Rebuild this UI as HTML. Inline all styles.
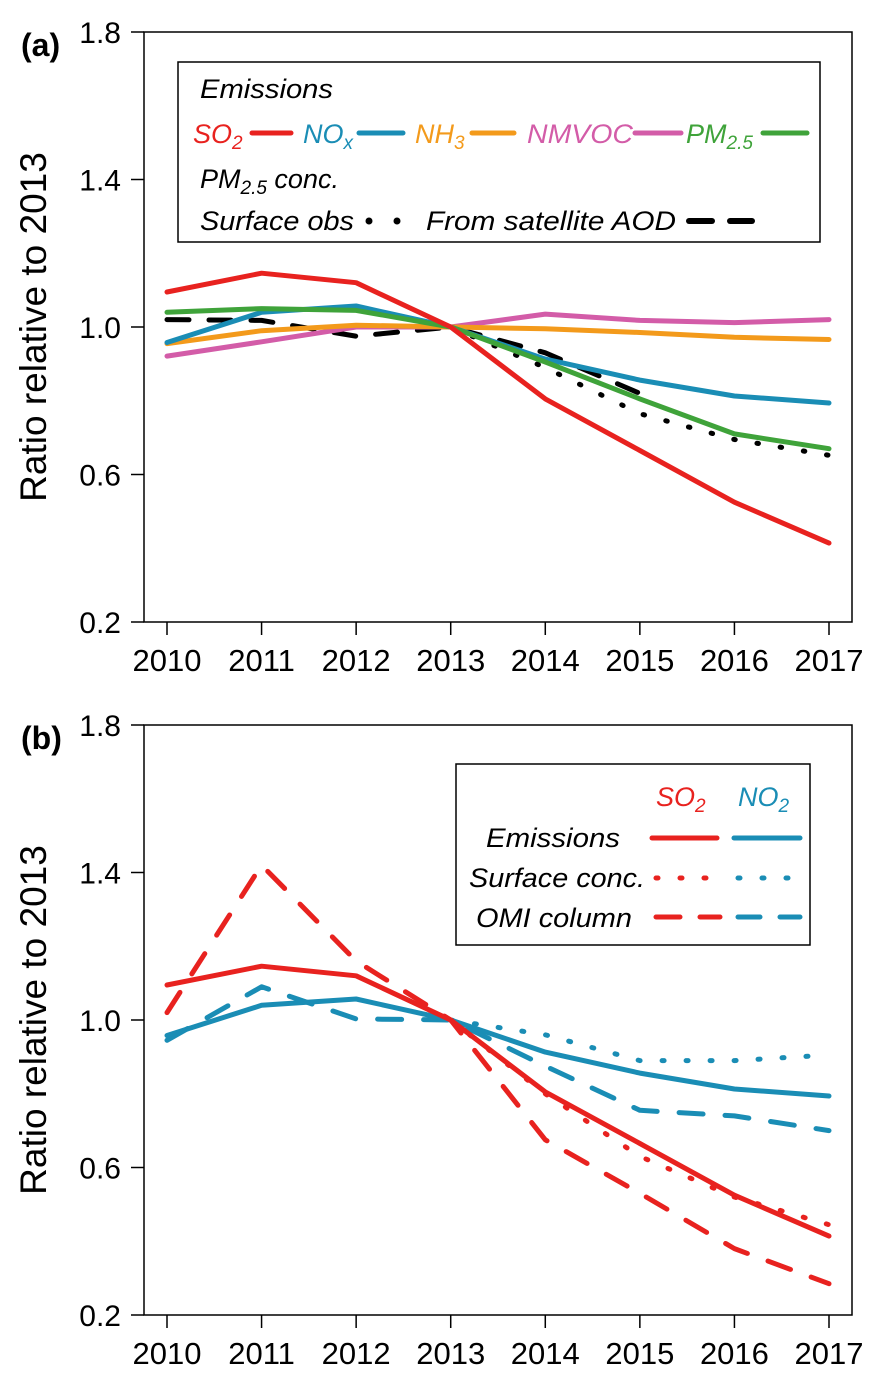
<!DOCTYPE html>
<html><head><meta charset="utf-8"><style>
html,body{margin:0;padding:0;background:#fff;}
svg{display:block;font-family:"Liberation Sans",Arial,sans-serif;}
.lg{font-style:italic;font-size:27px;}
</style></head><body>
<svg id="chart" width="882" height="1382" viewBox="0 0 882 1382" xmlns="http://www.w3.org/2000/svg">
<g id="pa"></g>
<g id="pb"></g>

<!-- legend a -->
<g>
<rect x="178" y="62" width="642" height="180" fill="#fff" stroke="#000" stroke-width="1.5"/>
<text class="lg" x="200" y="98" textLength="133" lengthAdjust="spacingAndGlyphs">Emissions</text>
<g><text class="lg" x="193" y="143" fill="#e8221f">SO<tspan font-size="19" dy="6">2</tspan></text><line x1="252" y1="133" x2="291" y2="133" stroke="#e8221f" stroke-width="5" stroke-linecap="round"/></g>
<g><text class="lg" x="303" y="143" fill="#1a8db5">NO<tspan font-size="19" dy="6">x</tspan></text><line x1="359" y1="133" x2="403" y2="133" stroke="#1a8db5" stroke-width="5" stroke-linecap="round"/></g>
<g><text class="lg" x="415" y="143" fill="#f39a1b">NH<tspan font-size="19" dy="6">3</tspan></text><line x1="472" y1="133" x2="514" y2="133" stroke="#f39a1b" stroke-width="5" stroke-linecap="round"/></g>
<g><text class="lg" x="527" y="143" fill="#d35ca8" textLength="106" lengthAdjust="spacingAndGlyphs">NMVOC</text><line x1="635" y1="133" x2="681" y2="133" stroke="#d35ca8" stroke-width="5" stroke-linecap="round"/></g>
<g><text class="lg" x="686" y="143" fill="#3fa33a">PM<tspan font-size="19" dy="6">2.5</tspan></text><line x1="763" y1="133" x2="807" y2="133" stroke="#3fa33a" stroke-width="5" stroke-linecap="round"/></g>
<text class="lg" x="200" y="188">PM<tspan font-size="19" dy="6">2.5</tspan><tspan dy="-6"> conc.</tspan></text>
<g><text class="lg" x="200" y="230" textLength="154" lengthAdjust="spacingAndGlyphs">Surface obs</text><circle cx="369" cy="221" r="3.5"/><circle cx="397" cy="221" r="3.5"/></g>
<g><text class="lg" x="426" y="230" textLength="250" lengthAdjust="spacingAndGlyphs">From satellite AOD</text><line x1="689" y1="221" x2="712" y2="221" stroke="#000" stroke-width="6" stroke-linecap="round"/><line x1="730" y1="221" x2="752" y2="221" stroke="#000" stroke-width="6" stroke-linecap="round"/></g>
</g>

<!-- legend b -->
<g>
<rect x="456" y="764" width="354" height="181" fill="#fff" stroke="#000" stroke-width="1.5"/>
<text class="lg" x="656" y="806" fill="#e8221f">SO<tspan font-size="19" dy="6">2</tspan></text>
<text class="lg" x="738" y="806" fill="#1a8db5">NO<tspan font-size="19" dy="6">2</tspan></text>
<g><text class="lg" x="486" y="847" textLength="134" lengthAdjust="spacingAndGlyphs">Emissions</text>
<line x1="652" y1="838" x2="717" y2="838" stroke="#e8221f" stroke-width="5" stroke-linecap="round"/><line x1="734" y1="838" x2="800" y2="838" stroke="#1a8db5" stroke-width="5" stroke-linecap="round"/></g>
<g><text class="lg" x="469" y="887" textLength="176" lengthAdjust="spacingAndGlyphs">Surface conc.</text>
<line x1="656" y1="878" x2="712" y2="878" stroke="#e8221f" stroke-width="5" stroke-linecap="round" stroke-dasharray="2 22"/><line x1="738" y1="878" x2="794" y2="878" stroke="#1a8db5" stroke-width="5" stroke-linecap="round" stroke-dasharray="2 22"/></g>
<g><text class="lg" x="476" y="927" textLength="156" lengthAdjust="spacingAndGlyphs">OMI column</text>
<line x1="656" y1="917" x2="720" y2="917" stroke="#e8221f" stroke-width="5" stroke-linecap="round" stroke-dasharray="24 20"/><line x1="738" y1="917" x2="800" y2="917" stroke="#1a8db5" stroke-width="5" stroke-linecap="round" stroke-dasharray="22 20"/></g>
</g>
</svg>
<script>
const years = [2010, 2011, 2012, 2013, 2014, 2015, 2016, 2017];
const yTicks = [0.2, 0.6, 1.0, 1.4, 1.8];
const yTickLabels = ["0.2", "0.6", "1.0", "1.4", "1.8"];
const so2Emis = [1.095, 1.146, 1.12, 1.0, 0.805, 0.665, 0.525, 0.414];
const noxEmis = [0.958, 1.04, 1.057, 1.0, 0.913, 0.856, 0.813, 0.794];
const nh3Emis = [0.955, 0.99, 1.005, 1.0, 0.995, 0.985, 0.972, 0.966];
const nmvocEmis = [0.921, 0.96, 1.0, 1.0, 1.035, 1.018, 1.012, 1.02];
const pm25Emis = [1.04, 1.05, 1.045, 1.0, 0.905, 0.805, 0.71, 0.67];
const pmSurfYears = [2013, 2014, 2015, 2016, 2017];
const pmSurfObs = [1.0, 0.89, 0.765, 0.695, 0.652];
const pmAodYears = [2010, 2011, 2012, 2013, 2014, 2015];
const pmAod = [1.02, 1.018, 0.975, 1.0, 0.93, 0.82];
const concYears = [2013, 2014, 2015, 2016, 2017];
const so2Surf = [1.0, 0.8, 0.63, 0.52, 0.445];
const no2Surf = [1.0, 0.96, 0.89, 0.89, 0.905];
const so2Omi = [1.02, 1.42, 1.16, 1.0, 0.675, 0.53, 0.38, 0.285];
const no2Omi = [0.945, 1.09, 1.003, 1.0, 0.875, 0.755, 0.74, 0.70];

const NS = "http://www.w3.org/2000/svg";
const X0 = 167, X1 = 829, PL = 144, PR = 852;
function xScale(yr){ return X0 + (yr - 2010) * (X1 - X0) / 7; }
function mkY(top){ const bot = top + 590; return v => bot - (v - 0.2) / 1.6 * 590; }
function el(tag, attrs, parent){ const e = document.createElementNS(NS, tag); for (const k in attrs) e.setAttribute(k, attrs[k]); parent.appendChild(e); return e; }

function drawAxes(g, top, label, tag){
  const y = mkY(top), bot = top + 590;
  const frame = el('rect', {x:PL, y:top, width:PR-PL, height:590, fill:'none', stroke:'#000', 'stroke-width':1.5}, g);
  
  
  yTicks.forEach((v,i) => {
    const t = el('line', {x1:PL-13, x2:PL, y1:y(v), y2:y(v), stroke:'#000', 'stroke-width':1.5}, g);
    
    
    const tx = el('text', {x:121, y:y(v)+11, 'text-anchor':'end', 'font-size':30}, g);
    tx.textContent = yTickLabels[i];
    
    
  });
  years.forEach(yr => {
    const t = el('line', {x1:xScale(yr), x2:xScale(yr), y1:bot, y2:bot+13, stroke:'#000', 'stroke-width':1.5}, g);
    
    
    const tx = el('text', {x:xScale(yr), y:bot+49, 'text-anchor':'middle', 'font-size':31}, g);
    tx.textContent = String(yr);
    
    
  });
  const cy = top + 295;
  const yt = el('text', {x:0, y:0, transform:`translate(46,${cy}) rotate(-90)`, 'text-anchor':'middle', 'font-size':37}, g);
  yt.textContent = 'Ratio relative to 2013';
  
  
  const pl = el('text', {x:21, y:top+24, 'font-size':32, 'font-weight':'bold'}, g);
  pl.textContent = label;
  
  
  return y;
}
function series(g, xs, vals, y, color, dash, name){
  const d = vals.map((v,i) => (i ? 'L' : 'M') + xScale(xs[i]).toFixed(1) + ' ' + y(v).toFixed(1)).join(' ');
  const p = el('path', {d:d, fill:'none', stroke:color, 'stroke-width':5, 'stroke-linecap':'round', 'stroke-linejoin':'round'}, g);
  if (dash) p.setAttribute('stroke-dasharray', dash);
  
  
}
const RED = '#e8221f', BLUE = '#1a8db5';
const ga = document.getElementById('pa');
const ya = drawAxes(ga, 32, '(a)', 'a');
series(ga, pmAodYears, pmAod, ya, '#000', '22 20', 'line-pm25-satellite-aod');
series(ga, pmSurfYears, pmSurfObs, ya, '#000', '1.5 22', 'line-pm25-surface-obs');
series(ga, years, nmvocEmis, ya, '#d35ca8', null, 'line-nmvoc-emissions');
series(ga, years, nh3Emis, ya, '#f39a1b', null, 'line-nh3-emissions');
series(ga, years, noxEmis, ya, BLUE, null, 'line-nox-emissions');
series(ga, years, pm25Emis, ya, '#3fa33a', null, 'line-pm25-emissions');
series(ga, years, so2Emis, ya, RED, null, 'line-so2-emissions');

const gb = document.getElementById('pb');
const yb = drawAxes(gb, 725, '(b)', 'b');
series(gb, years, no2Omi, yb, BLUE, '24 22', 'line-no2-omi');
series(gb, concYears, no2Surf, yb, BLUE, '2 22', 'line-no2-surface');
series(gb, years, noxEmis, yb, BLUE, null, 'line-no2-emissions');
series(gb, years, so2Omi, yb, RED, '24 22', 'line-so2-omi');
series(gb, concYears, so2Surf, yb, RED, '2 22', 'line-so2-surface');
series(gb, years, so2Emis, yb, RED, null, 'line-so2-emissions-b');
</script>
</body></html>
